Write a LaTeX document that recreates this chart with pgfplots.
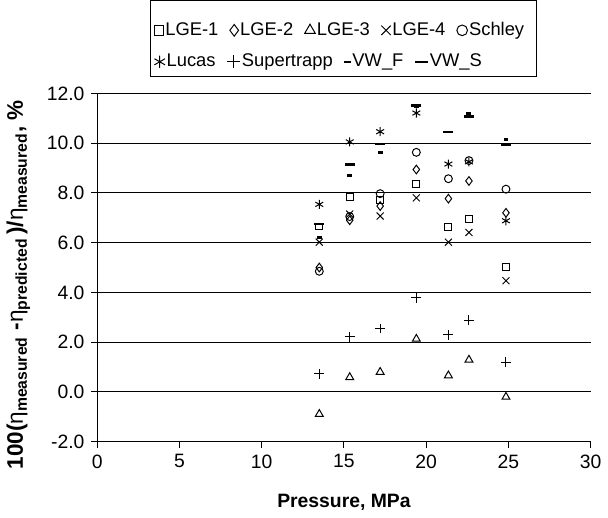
\documentclass[border=0pt]{standalone}
\usepackage{pgfplots}
\pgfplotsset{compat=1.18}
\usetikzlibrary{fit}
\usepackage{fontspec}
\setmainfont{Liberation Sans}

\pgfplotsset{
    mk/.style={only marks,
        legend image code/.code={\draw[mark repeat=2, mark phase=2, ##1,
            every mark/.append style={scale=1.35}]
            plot coordinates {(0cm,0cm)(0.13cm,0cm)(0.26cm,0cm)};}},
    leg/.style={legend columns=-1, legend cell align=left,
        legend style={draw=none, fill=none, anchor=west, inner sep=0pt,
            font=\fontsize{9.3}{11}\selectfont,
            nodes={inner sep=0.8pt},
            /tikz/every even column/.append style={column sep=5pt}}},
    base/.style={width=250pt, height=176.5pt, scale only axis,
        xmin=0, xmax=30, ymin=-2, ymax=12,
        mark options={solid, black, fill=white, line width=0.5pt}},
}

\begin{document}
\begin{tikzpicture}
\begin{axis}[base, leg,
    xtick={0,5,...,30}, ytick={-2,0,...,12},
    axis x line*=bottom, axis y line*=left,
    ymajorgrids=true,
    grid style={black, line width=0.5pt},
    tick align=outside, major tick length=3pt,
    tick style={black, line width=0.5pt},
    axis line style={black, line width=0.6pt},
    font=\fontsize{9.8}{11.5}\selectfont,
    /pgf/number format/assume math mode=true,
    yticklabel style={/pgf/number format/.cd, fixed, fixed zerofill, precision=1},
    xlabel={\textbf{Pressure, MPa}},
    ylabel={\textbf{100(}η\textsubscript{\textbf{measured}} \textbf{-}η\textsubscript{\textbf{predicted}}\,\textbf{)/}η\textsubscript{\textbf{measured}}\textbf{, \%}},
    every axis x label/.style={at={(axis description cs:0.5,-0.175)}, anchor=center},
    every axis y label/.style={at={(axis description cs:-0.16,0.45)}, rotate=90, anchor=center,
        font=\fontsize{11.4}{13}\selectfont},
    legend style={at={(axis description cs:0.115,1.181)}, name=leg1},
]

% LGE-1
\addplot[mk, mark=square, mark size=1.75pt] coordinates {
(13.5,6.65)(15.35,7.84)(17.2,7.73)(19.4,8.37)(21.35,6.62)(22.6,6.94)(24.85,5.02)};
\addlegendentry{LGE-1}
% LGE-2
\addplot[mk, mark=diamond, mark size=2.2pt] coordinates {
(13.5,5.0)(15.35,6.9)(17.2,7.47)(19.4,8.94)(21.35,7.77)(22.6,8.48)(24.85,7.2)};
\addlegendentry{LGE-2}
% LGE-3
\addplot[mk, mark=triangle, mark size=2.3pt] coordinates {
(13.5,-0.89)(15.35,0.59)(17.2,0.8)(19.4,2.13)(21.35,0.66)(22.6,1.29)(24.85,-0.2)};
\addlegendentry{LGE-3}
% LGE-4
\addplot[mk, mark=x, mark size=2.5pt] coordinates {
(13.5,6.02)(15.35,7.15)(17.2,7.07)(19.4,7.8)(21.35,6.02)(22.6,6.41)(24.85,4.47)};
\addlegendentry{LGE-4}
% Schley
\addplot[mk, mark=o, mark size=2pt] coordinates {
(13.5,4.85)(15.35,7.05)(17.2,7.97)(19.4,9.63)(21.35,8.57)(22.6,9.3)(24.85,8.15)};
\addlegendentry{Schley}
% Lucas
\addplot[mk, mark=asterisk, mark size=2.3pt] coordinates {
(13.5,7.54)(15.35,10.05)(17.2,10.46)(19.4,11.21)(21.35,9.16)(22.6,9.25)(24.85,6.88)};
% Supertrapp
\addplot[mk, mark=+, mark size=2.5pt] coordinates {
(13.5,0.73)(15.35,2.22)(17.2,2.55)(19.4,3.79)(21.35,2.29)(22.6,2.88)(24.85,1.2)};
% VW_F
\addplot[mk, mark=-, mark size=1.25pt, mark options={solid, black, line width=1.3pt}] coordinates {
(13.5,6.2)(15.35,8.7)(17.2,9.63)(19.4,11.45)(21.35,10.45)(22.6,11.19)(24.85,10.15)};
% VW_S
\addplot[mk, mark=-, mark size=2.5pt, mark options={solid, black, line width=1.3pt}] coordinates {
(13.5,6.75)(15.35,9.14)(17.2,9.96)(19.4,11.52)(21.35,10.45)(22.6,11.08)(24.85,9.92)};
\end{axis}

% second legend row (Lucas, Supertrapp, VW_F, VW_S)
\begin{axis}[base, leg, hide axis,
    legend style={at={(axis description cs:0.115,1.0907)}, name=leg2}]
\addlegendimage{mk, mark=asterisk, mark size=2.3pt}
\addlegendentry{Lucas}
\addlegendimage{mk, mark=+, mark size=2.5pt}
\addlegendentry{Supertrapp}
\addlegendimage{mk, mark=-, mark size=1.25pt, mark options={solid, black, line width=1.3pt}}
\addlegendentry{VW\_F}
\addlegendimage{mk, mark=-, mark size=2.5pt, mark options={solid, black, line width=1.3pt}}
\addlegendentry{VW\_S}
\end{axis}

\node[draw=black, line width=0.5pt, fit=(leg1)(leg2), inner xsep=3.5pt, inner ysep=6.25pt,
    xshift=1.5pt, yshift=3.75pt] {};
\end{tikzpicture}
\end{document}
